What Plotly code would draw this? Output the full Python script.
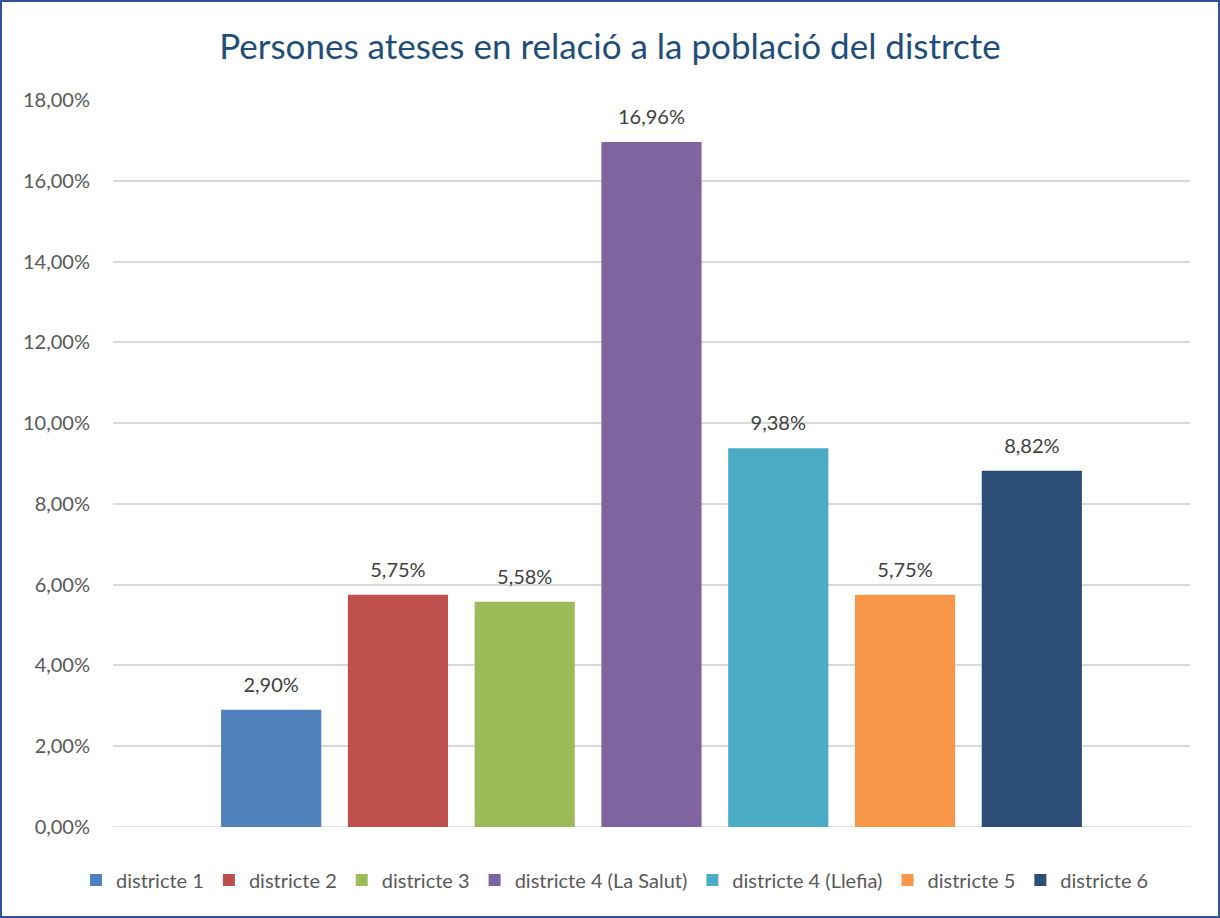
import plotly.graph_objects as go

series_names = ["districte 1", "districte 2", "districte 3", "districte 4 (La Salut)",
                "districte 4 (Llefia)", "districte 5", "districte 6"]
values = [0.0290, 0.0575, 0.0558, 0.1696, 0.0938, 0.0575, 0.0882]
colors = ["#4F81BD", "#C0504D", "#9BBB59", "#8064A2", "#4BACC6", "#F79646", "#2C4D75"]
category = [""]
title_text = "Persones ateses en relació a la població del distrcte"
tick_vals = [0, 0.02, 0.04, 0.06, 0.08, 0.10, 0.12, 0.14, 0.16, 0.18]

FONT = "Lato, Open Sans, sans-serif"

fig = go.Figure()
for name, v, c in zip(series_names, values, colors):
    fig.add_trace(go.Bar(
        x=category, y=[v], name=name, marker=dict(color=c, line=dict(width=0)),
        text=[v], texttemplate="<span style='font-size:20px'>%{y:.2%}</span><br> ",
        textposition="outside",
        textfont=dict(family=FONT, size=10, color="#404040"),
        cliponaxis=False,
    ))

W, H = 1220, 918
ml, mr, mt, mb = 113, 30, 100, 91
pw, ph = W - ml - mr, H - mt - mb

def px(x):
    return (x - ml) / pw

def py(y):
    return (H - mb - y) / ph

fig.update_layout(
    width=W, height=H,
    margin=dict(l=ml, r=mr, t=mt, b=mb),
    paper_bgcolor="white", plot_bgcolor="white",
    separators=",.",
    barmode="group", bargap=0.176, bargroupgap=0.21,
    title=dict(text=title_text, x=0.5, xanchor="center", y=1 - 47 / H, yanchor="middle",
               font=dict(family=FONT, size=35, color="#1F4E79")),
    showlegend=True,
    legend=dict(orientation="h", x=px(615), xanchor="center", y=py(880), yanchor="middle",
                font=dict(family=FONT, size=20, color="#595959"),
                itemwidth=30, traceorder="normal"),
    xaxis=dict(showticklabels=False, showgrid=False, zeroline=False, showline=False),
    yaxis=dict(range=[0, 0.18], tickvals=tick_vals, tickformat=".2%",
               showgrid=True, gridcolor="#D9D9D9", gridwidth=1.5,
               zeroline=False, showline=False,
               tickfont=dict(family=FONT, size=20, color="#595959"),
               ticks="", ticklabelstandoff=22),
    shapes=[dict(type="line", xref="paper", yref="y", x0=0, x1=1, y0=0, y1=0,
                 line=dict(color="#D9D9D9", width=1.5), layer="below"),
            dict(type="rect", xref="paper", yref="paper",
                 x0=px(1), x1=px(W - 1), y0=py(H - 1), y1=py(1),
                 line=dict(color="#2F5597", width=2), fillcolor="rgba(0,0,0,0)")],
)

fig.write_html("out.html", config={"displayModeBar": False},
               post_script="document.body.style.margin='0';document.body.style.overflow='hidden';")
